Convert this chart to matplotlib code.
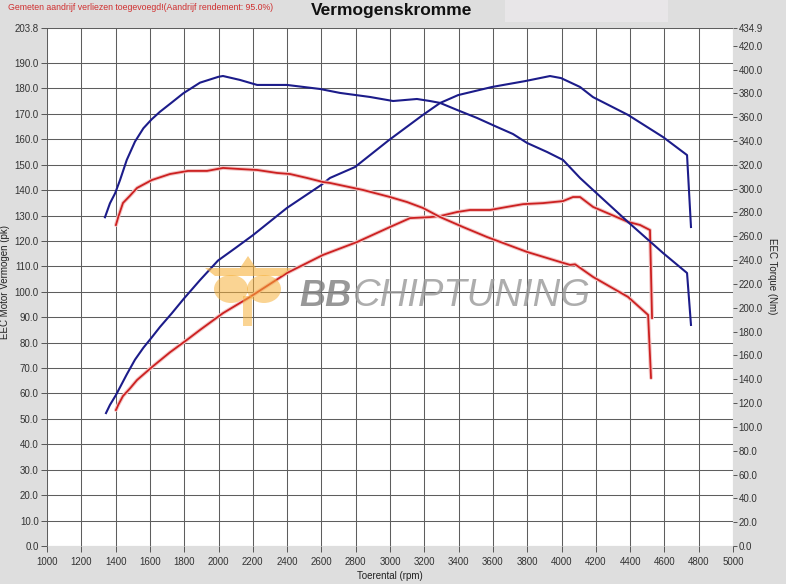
import matplotlib
matplotlib.use("Agg")
import matplotlib.pyplot as plt
from matplotlib.patches import Polygon, Ellipse, Rectangle

plt.rcParams['font.family'] = ['Liberation Sans', 'DejaVu Sans']

# blauw = na tuning, rood = standaard
bp_rpm = [1344, 1367, 1402, 1465, 1513, 1562, 1610, 1659, 1727, 1799, 1892, 1997, 2100, 2201, 2399,
          2598, 2650, 2796, 2994, 3192, 3292, 3397, 3595, 3787, 3933, 3997, 4108, 4184, 4388, 4592,
          4732, 4755]
bp_pk = [52.3, 55.5, 59.4, 67.5, 73.3, 78.0, 82.0, 86.2, 91.5, 97.4, 104.6, 112.3, 117.3, 122.3, 133.0,
         142.0, 144.8, 149.1, 159.7, 169.6, 174.3, 177.4, 180.6, 182.9, 184.9, 184.1, 180.6, 176.6,
         169.6, 160.9, 153.8, 125.5]

bt_rpm = [1338, 1367, 1397, 1426, 1465, 1513, 1562, 1610, 1659, 1727, 1795, 1892, 1999, 2026, 2125,
          2225, 2399, 2592, 2708, 2883, 3018, 3157, 3233, 3292, 3391, 3507, 3624, 3717, 3799, 3916,
          4009, 4108, 4184, 4388, 4592, 4732, 4755]
bt_nm = [276.0, 287.7, 296.1, 307.3, 324.1, 339.5, 350.7, 358.2, 364.6, 372.3, 380.1, 389.0, 393.9,
         394.6, 391.3, 387.1, 387.1, 383.7, 380.4, 377.0, 373.6, 375.3, 373.6, 372.0, 366.1, 359.4,
         351.8, 345.9, 338.4, 330.8, 324.1, 309.0, 298.9, 272.0, 246.0, 229.2, 185.6]

rp_rpm = [1402, 1416, 1443, 1484, 1525, 1612, 1717, 1822, 1892, 2026, 2184, 2399, 2609, 2808, 3000,
          3117, 3233, 3292, 3391, 3467, 3583, 3682, 3776, 3892, 4009, 4067, 4108, 4184, 4388, 4458,
          4516, 4528]
rp_pk = [53.5, 55.6, 59.0, 62.0, 65.3, 70.4, 76.2, 81.4, 85.0, 91.6, 98.0, 107.4, 114.5, 119.6, 125.5,
         129.0, 129.4, 129.8, 131.4, 132.2, 132.2, 133.4, 134.5, 134.9, 135.7, 137.3, 137.3, 133.4,
         127.5, 126.3, 124.3, 89.7]

rt_rpm = [1402, 1416, 1443, 1484, 1525, 1612, 1717, 1822, 1933, 2026, 2125, 2225, 2341, 2417, 2516,
          2609, 2650, 2843, 3000, 3099, 3192, 3292, 3426, 3566, 3799, 3991, 4050, 4079, 4184, 4388,
          4505, 4522]
rt_nm = [269.5, 276.5, 288.0, 294.1, 300.6, 307.3, 312.3, 314.9, 314.9, 317.4, 316.5, 315.7, 313.2,
         312.3, 309.0, 305.6, 304.8, 298.9, 293.0, 288.8, 283.8, 276.2, 267.8, 259.4, 246.9, 238.5,
         236.0, 236.5, 225.9, 209.1, 194.0, 141.1]

x_ticks = list(range(1000, 5001, 200))
left_ticks = [i * 10.0 for i in range(20)] + [203.8]
right_ticks = [i * 20.0 for i in range(22)] + [434.9]

BLUE = '#1c1c8a'
RED = '#cc2020'
GLOW = '#f3c6c6'
BG = '#dedede'

fig = plt.figure(figsize=(7.86, 5.84), dpi=100, facecolor=BG)
ax = fig.add_axes([47/786, 1-546/584, 686/786, 518/584])
ax2 = ax.twinx()

ax.set_xlim(1000, 5000)
ax.set_ylim(0, 203.8)
ax2.set_ylim(0, 434.9)

ax.set_xticks(x_ticks)
ax.set_yticks(left_ticks)
ax.set_yticklabels(['%.1f' % v for v in left_ticks])
ax2.set_yticks(right_ticks)
ax2.set_yticklabels(['%.1f' % v for v in right_ticks])

ax.grid(True, color='#5e5e5e', lw=0.75)
ax.set_axisbelow(True)
for a in (ax, ax2):
    for s in a.spines.values():
        s.set_visible(False)
    a.tick_params(length=4, width=0.7, color='#555555', labelsize=7, labelcolor='#333333', pad=2)
ax.tick_params(axis='x', pad=4)
ax2.tick_params(length=3, pad=1)

# power (left axis)
ax.plot(rp_rpm, rp_pk, color=GLOW, lw=2.8, solid_capstyle='round')
ax.plot(rp_rpm, rp_pk, color=RED, lw=1.3)
ax.plot(bp_rpm, bp_pk, color=BLUE, lw=1.5)
# torque (right axis)
ax2.plot(rt_rpm, rt_nm, color=GLOW, lw=2.8, solid_capstyle='round')
ax2.plot(rt_rpm, rt_nm, color=RED, lw=1.3)
ax2.plot(bt_rpm, bt_nm, color=BLUE, lw=1.5)

ax.set_xlabel('Toerental (rpm)', fontsize=7, color='#222222', labelpad=3)
ax.set_ylabel('EEC Motor Vermogen (pk)', fontsize=7, color='#222222')
ax.yaxis.set_label_coords(-0.054, 0.51)
ax2.set_ylabel('EEC Torque (Nm)', fontsize=7, color='#222222', rotation=270, va='center')
ax2.yaxis.set_label_coords(1.057, 0.52)

# watermark
def px(x, y):
    return ((x - 47) / 686, (546 - y) / 518)

orange = '#f7b13a'
wing = Polygon([px(205, 268), px(292, 268), px(282, 276), px(215, 276)], closed=True,
               transform=ax.transAxes, color=orange, alpha=0.6, lw=0, zorder=5)
crest = Polygon([px(240, 268), px(248, 256), px(256, 268)], closed=True,
                transform=ax.transAxes, color=orange, alpha=0.6, lw=0, zorder=5)
ax.add_patch(wing)
ax.add_patch(crest)
for cx in (231, 264):
    c = px(cx, 289)
    ax.add_patch(Ellipse(c, 34/686, 28/518, transform=ax.transAxes, color=orange,
                         alpha=0.55, lw=0, zorder=5))
s0 = px(243, 326)
ax.add_patch(Rectangle(s0, 9/686, 30/518, transform=ax.transAxes, color=orange,
                       alpha=0.55, lw=0, zorder=5))

ax.text(*px(299, 296), 'BB', transform=ax.transAxes, fontsize=26, fontweight='bold',
        fontstyle='italic', color='#7e7e7e', alpha=0.8, va='center', ha='left', zorder=6)
ax.text(*px(353, 296), 'CHIPTUNING', transform=ax.transAxes, fontsize=27.5,
        fontstyle='italic', color='#999999', alpha=0.8, va='center', ha='left', zorder=6)

# header
fig.patches.append(Rectangle((505/786, 1-22/584), 163/786, 22/584, transform=fig.transFigure,
                             color='#e8e6e8', lw=0, zorder=0))
fig.text(8/786, 1-7/584, 'Gemeten aandrijf verliezen toegevoegd!(Aandrijf rendement: 95.0%)',
         fontsize=6.3, color='#d03030', va='center', ha='left')
fig.text(392/786, 1-11/584, 'Vermogenskromme', fontsize=12.5, fontweight='bold',
         color='#111111', va='center', ha='center')

fig.savefig('out.png', dpi=100, facecolor=BG)
